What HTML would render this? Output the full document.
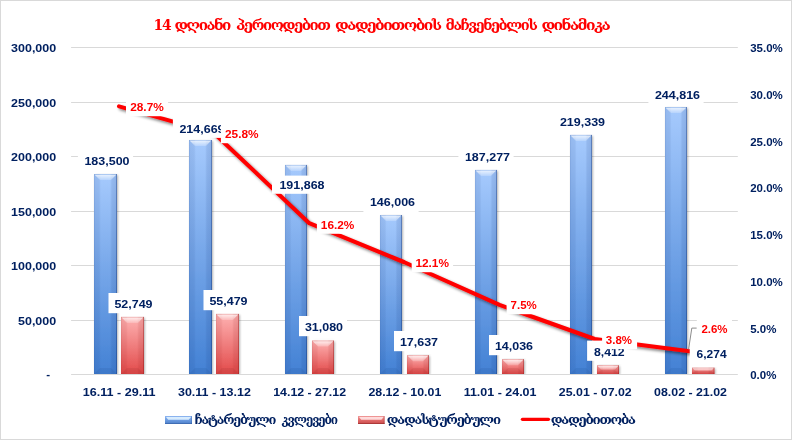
<!DOCTYPE html>
<html lang="ka"><head><meta charset="utf-8"><title>14 დღიანი პერიოდებით დადებითობის მაჩვენებლის დინამიკა</title>
<style>html,body{margin:0;padding:0;background:#fff}body{width:792px;height:440px;overflow:hidden}svg{display:block}.n{font-family:"Liberation Sans","DejaVu Sans",sans-serif;font-weight:bold;font-size:11.6px;fill:#002060}.r{font-family:"Liberation Sans","DejaVu Sans",sans-serif;font-weight:bold;font-size:11.6px;fill:#ff0000}.g{font-family:"DejaVu Serif","DejaVu Sans",serif;font-weight:bold;fill:#002060}</style></head><body>
<svg width="792" height="440" viewBox="0 0 792 440">
<defs>
<linearGradient id="gb" x1="0" y1="0" x2="0" y2="1"><stop offset="0" stop-color="#a6cafd"/><stop offset="1" stop-color="#4381d4"/></linearGradient>
<linearGradient id="gr" x1="0" y1="0" x2="0" y2="1"><stop offset="0" stop-color="#feb2b2"/><stop offset="1" stop-color="#e24a4a"/></linearGradient>
<linearGradient id="gt" x1="0" y1="0" x2="0" y2="1"><stop offset="0" stop-color="#fff" stop-opacity=".75"/><stop offset="1" stop-color="#fff" stop-opacity=".2"/></linearGradient>
<linearGradient id="lb" x1="0" y1="0" x2="0" y2="1"><stop offset="0" stop-color="#8fb6f0"/><stop offset=".5" stop-color="#6c9ce2"/><stop offset="1" stop-color="#4c7ec8"/></linearGradient>
<linearGradient id="lr" x1="0" y1="0" x2="0" y2="1"><stop offset="0" stop-color="#f09a9a"/><stop offset=".5" stop-color="#e26c6c"/><stop offset="1" stop-color="#c84848"/></linearGradient>
<filter id="sh" x="-5%" y="-5%" width="110%" height="112%"><feGaussianBlur in="SourceAlpha" stdDeviation="1.6"/><feOffset dx="1.6" dy="2.2"/><feComponentTransfer><feFuncA type="linear" slope=".5"/></feComponentTransfer><feMerge><feMergeNode/><feMergeNode in="SourceGraphic"/></feMerge></filter>
<filter id="sb" x="-30%" y="-5%" width="160%" height="110%"><feGaussianBlur in="SourceAlpha" stdDeviation=".9"/><feOffset dx="1.2" dy="0.5"/><feComponentTransfer><feFuncA type="linear" slope=".3"/></feComponentTransfer><feMerge><feMergeNode/><feMergeNode in="SourceGraphic"/></feMerge></filter>
<linearGradient id="ob" x1="0" y1="0" x2="1" y2="0"><stop offset="0" stop-color="#0c2c70" stop-opacity="0.22"/><stop offset="0.05" stop-color="#0c2c70" stop-opacity="0.1"/><stop offset="0.22" stop-color="#0c2c70" stop-opacity="0.08"/><stop offset="0.3" stop-color="#0c2c70" stop-opacity="0"/><stop offset="0.7" stop-color="#0c2c70" stop-opacity="0"/><stop offset="0.78" stop-color="#0c2c70" stop-opacity="0.1"/><stop offset="0.95" stop-color="#0c2c70" stop-opacity="0.14"/><stop offset="0.96" stop-color="#0c2c70" stop-opacity="0.45"/><stop offset="1" stop-color="#0c2c70" stop-opacity="0.5"/></linearGradient>
<linearGradient id="or" x1="0" y1="0" x2="1" y2="0"><stop offset="0" stop-color="#8a1010" stop-opacity="0.22"/><stop offset="0.05" stop-color="#8a1010" stop-opacity="0.1"/><stop offset="0.22" stop-color="#8a1010" stop-opacity="0.08"/><stop offset="0.3" stop-color="#8a1010" stop-opacity="0"/><stop offset="0.7" stop-color="#8a1010" stop-opacity="0"/><stop offset="0.78" stop-color="#8a1010" stop-opacity="0.1"/><stop offset="0.95" stop-color="#8a1010" stop-opacity="0.14"/><stop offset="0.96" stop-color="#8a1010" stop-opacity="0.45"/><stop offset="1" stop-color="#8a1010" stop-opacity="0.5"/></linearGradient>
<clipPath id="cp"><rect x="0" y="0" width="792" height="374"/></clipPath>
</defs>
<rect x="0.5" y="0.5" width="791" height="439" fill="#fff" stroke="#d9d9d9"/>
<text class="g" x="153.6" y="29.6" font-size="14.4" style="fill:#ff0000;letter-spacing:-1.4px" textLength="16.6" lengthAdjust="spacingAndGlyphs">14</text>
<text class="g" x="174.4" y="29.6" font-size="13.8" style="fill:#ff0000;letter-spacing:-1.4px" textLength="55.5" lengthAdjust="spacingAndGlyphs">დღიანი</text>
<text class="g" x="236" y="29.6" font-size="13.8" style="fill:#ff0000;letter-spacing:-1.4px" textLength="93.4" lengthAdjust="spacingAndGlyphs">პერიოდებით</text>
<text class="g" x="335.1" y="29.6" font-size="13.8" style="fill:#ff0000;letter-spacing:-1.4px" textLength="105.4" lengthAdjust="spacingAndGlyphs">დადებითობის</text>
<text class="g" x="445.6" y="29.6" font-size="13.8" style="fill:#ff0000;letter-spacing:-1.4px" textLength="90.9" lengthAdjust="spacingAndGlyphs">მაჩვენებლის</text>
<text class="g" x="541.4" y="29.6" font-size="13.8" style="fill:#ff0000;letter-spacing:-1.4px" textLength="67.9" lengthAdjust="spacingAndGlyphs">დინამიკა</text>
<rect x="71.1" y="47" width="666.7" height="1" fill="#d9d9d9"/>
<rect x="71.1" y="102" width="666.7" height="1" fill="#d9d9d9"/>
<rect x="71.1" y="156" width="666.7" height="1" fill="#d9d9d9"/>
<rect x="71.1" y="211" width="666.7" height="1" fill="#d9d9d9"/>
<rect x="71.1" y="265" width="666.7" height="1" fill="#d9d9d9"/>
<rect x="71.1" y="320" width="666.7" height="1" fill="#d9d9d9"/>
<rect x="71.1" y="374" width="666.7" height="1" fill="#d9d9d9"/>
<text class="n" x="56.2" y="52.1" text-anchor="end" textLength="45.1" lengthAdjust="spacingAndGlyphs">300,000</text>
<text class="n" x="56.2" y="106.6" text-anchor="end" textLength="45.1" lengthAdjust="spacingAndGlyphs">250,000</text>
<text class="n" x="56.2" y="161.1" text-anchor="end" textLength="45.1" lengthAdjust="spacingAndGlyphs">200,000</text>
<text class="n" x="56.2" y="215.6" text-anchor="end" textLength="45.1" lengthAdjust="spacingAndGlyphs">150,000</text>
<text class="n" x="56.2" y="270.1" text-anchor="end" textLength="45.1" lengthAdjust="spacingAndGlyphs">100,000</text>
<text class="n" x="56.2" y="324.6" text-anchor="end" textLength="38.16" lengthAdjust="spacingAndGlyphs">50,000</text>
<text class="n" x="50.2" y="377.7" text-anchor="end">-</text>
<text class="n" x="750.2" y="52.3" textLength="32.6" lengthAdjust="spacingAndGlyphs">35.0%</text>
<text class="n" x="750.2" y="99.01" textLength="32.6" lengthAdjust="spacingAndGlyphs">30.0%</text>
<text class="n" x="750.2" y="145.73" textLength="32.6" lengthAdjust="spacingAndGlyphs">25.0%</text>
<text class="n" x="750.2" y="192.44" textLength="32.6" lengthAdjust="spacingAndGlyphs">20.0%</text>
<text class="n" x="750.2" y="239.16" textLength="32.6" lengthAdjust="spacingAndGlyphs">15.0%</text>
<text class="n" x="750.2" y="285.87" textLength="32.6" lengthAdjust="spacingAndGlyphs">10.0%</text>
<text class="n" x="750.2" y="332.59" textLength="26.2" lengthAdjust="spacingAndGlyphs">5.0%</text>
<text class="n" x="750.2" y="379.3" textLength="26.2" lengthAdjust="spacingAndGlyphs">0.0%</text>
<g clip-path="url(#cp)">
<g filter="url(#sb)"><rect x="94" y="174.06" width="23" height="199.94" fill="url(#gb)"/></g><rect x="94" y="174.06" width="23" height="199.94" fill="url(#ob)"/><polygon points="94.6,174.66 116.2,174.66 111,180.06 100,180.06" fill="url(#gt)"/><polygon points="94,374 117,374 111,368 100,368" fill="#16387a" fill-opacity=".10"/><rect x="94" y="174.06" width="23" height=".8" fill="#16387a" fill-opacity=".09"/>
<g filter="url(#sb)"><rect x="121" y="316.88" width="23" height="57.12" fill="url(#gr)"/></g><rect x="121" y="316.88" width="23" height="57.12" fill="url(#or)"/><polygon points="121.6,317.48 143.2,317.48 138,322.88 127,322.88" fill="url(#gt)"/><polygon points="121,374 144,374 138,368 127,368" fill="#701818" fill-opacity=".10"/><rect x="121" y="316.88" width="23" height=".8" fill="#701818" fill-opacity=".09"/>
<g filter="url(#sb)"><rect x="189" y="140.01" width="23" height="233.99" fill="url(#gb)"/></g><rect x="189" y="140.01" width="23" height="233.99" fill="url(#ob)"/><polygon points="189.6,140.61 211.2,140.61 206,146.01 195,146.01" fill="url(#gt)"/><polygon points="189,374 212,374 206,368 195,368" fill="#16387a" fill-opacity=".10"/><rect x="189" y="140.01" width="23" height=".8" fill="#16387a" fill-opacity=".09"/>
<g filter="url(#sb)"><rect x="216" y="313.9" width="23" height="60.1" fill="url(#gr)"/></g><rect x="216" y="313.9" width="23" height="60.1" fill="url(#or)"/><polygon points="216.6,314.5 238.2,314.5 233,319.9 222,319.9" fill="url(#gt)"/><polygon points="216,374 239,374 233,368 222,368" fill="#701818" fill-opacity=".10"/><rect x="216" y="313.9" width="23" height=".8" fill="#701818" fill-opacity=".09"/>
<g filter="url(#sb)"><rect x="285" y="164.92" width="22" height="209.08" fill="url(#gb)"/></g><rect x="285" y="164.92" width="22" height="209.08" fill="url(#ob)"/><polygon points="285.6,165.52 306.2,165.52 301,170.92 291,170.92" fill="url(#gt)"/><polygon points="285,374 307,374 301,368 291,368" fill="#16387a" fill-opacity=".10"/><rect x="285" y="164.92" width="22" height=".8" fill="#16387a" fill-opacity=".09"/>
<g filter="url(#sb)"><rect x="312" y="340.55" width="22" height="33.45" fill="url(#gr)"/></g><rect x="312" y="340.55" width="22" height="33.45" fill="url(#or)"/><polygon points="312.6,341.15 333.2,341.15 328,346.55 318,346.55" fill="url(#gt)"/><polygon points="312,374 334,374 328,368 318,368" fill="#701818" fill-opacity=".10"/><rect x="312" y="340.55" width="22" height=".8" fill="#701818" fill-opacity=".09"/>
<g filter="url(#sb)"><rect x="380" y="215.01" width="22" height="158.99" fill="url(#gb)"/></g><rect x="380" y="215.01" width="22" height="158.99" fill="url(#ob)"/><polygon points="380.6,215.61 401.2,215.61 396,221.01 386,221.01" fill="url(#gt)"/><polygon points="380,374 402,374 396,368 386,368" fill="#16387a" fill-opacity=".10"/><rect x="380" y="215.01" width="22" height=".8" fill="#16387a" fill-opacity=".09"/>
<g filter="url(#sb)"><rect x="407" y="355.23" width="22" height="18.77" fill="url(#gr)"/></g><rect x="407" y="355.23" width="22" height="18.77" fill="url(#or)"/><polygon points="407.6,355.83 428.2,355.83 423,361.23 413,361.23" fill="url(#gt)"/><polygon points="407,374 429,374 423,368 413,368" fill="#701818" fill-opacity=".10"/><rect x="407" y="355.23" width="22" height=".8" fill="#701818" fill-opacity=".09"/>
<g filter="url(#sb)"><rect x="475" y="169.93" width="22" height="204.07" fill="url(#gb)"/></g><rect x="475" y="169.93" width="22" height="204.07" fill="url(#ob)"/><polygon points="475.6,170.53 496.2,170.53 491,175.93 481,175.93" fill="url(#gt)"/><polygon points="475,374 497,374 491,368 481,368" fill="#16387a" fill-opacity=".10"/><rect x="475" y="169.93" width="22" height=".8" fill="#16387a" fill-opacity=".09"/>
<g filter="url(#sb)"><rect x="502" y="359.17" width="22" height="14.83" fill="url(#gr)"/></g><rect x="502" y="359.17" width="22" height="14.83" fill="url(#or)"/><polygon points="502.6,359.77 523.2,359.77 518,365.17 508,365.17" fill="url(#gt)"/><polygon points="502,374 524,374 518,368 508,368" fill="#701818" fill-opacity=".10"/><rect x="502" y="359.17" width="22" height=".8" fill="#701818" fill-opacity=".09"/>
<g filter="url(#sb)"><rect x="570" y="134.91" width="22" height="239.09" fill="url(#gb)"/></g><rect x="570" y="134.91" width="22" height="239.09" fill="url(#ob)"/><polygon points="570.6,135.51 591.2,135.51 586,140.91 576,140.91" fill="url(#gt)"/><polygon points="570,374 592,374 586,368 576,368" fill="#16387a" fill-opacity=".10"/><rect x="570" y="134.91" width="22" height=".8" fill="#16387a" fill-opacity=".09"/>
<g filter="url(#sb)"><rect x="597" y="365.31" width="22" height="8.69" fill="url(#gr)"/></g><rect x="597" y="365.31" width="22" height="8.69" fill="url(#or)"/><polygon points="597.6,365.91 618.2,365.91 614.66,369.66 601.34,369.66" fill="url(#gt)"/><polygon points="597,374 619,374 614.66,369.66 601.34,369.66" fill="#701818" fill-opacity=".10"/><rect x="597" y="365.31" width="22" height=".8" fill="#701818" fill-opacity=".09"/>
<g filter="url(#sb)"><rect x="665" y="107.08" width="22" height="266.92" fill="url(#gb)"/></g><rect x="665" y="107.08" width="22" height="266.92" fill="url(#ob)"/><polygon points="665.6,107.68 686.2,107.68 681,113.08 671,113.08" fill="url(#gt)"/><polygon points="665,374 687,374 681,368 671,368" fill="#16387a" fill-opacity=".10"/><rect x="665" y="107.08" width="22" height=".8" fill="#16387a" fill-opacity=".09"/>
<g filter="url(#sb)"><rect x="692" y="367.65" width="22.5" height="6.35" fill="url(#gr)"/></g><rect x="692" y="367.65" width="22.5" height="6.35" fill="url(#or)"/><polygon points="692.6,368.25 713.7,368.25 711.32,370.82 695.18,370.82" fill="url(#gt)"/><polygon points="692,374 714.5,374 711.32,370.82 695.18,370.82" fill="#701818" fill-opacity=".10"/><rect x="692" y="367.65" width="22.5" height=".8" fill="#701818" fill-opacity=".09"/>
</g>
<polyline filter="url(#sh)" fill="none" stroke="#ff0000" stroke-width="4.1" stroke-linecap="round" stroke-linejoin="round" points="119,106.36 214.13,133.15 309.26,223.15 404.39,262.25 499.52,304.93 594.65,339 689.78,351.21"/>
<rect x="77.9" y="150" width="55.2" height="20.2" fill="#fff"/><text class="n" x="107" y="165" text-anchor="middle" textLength="45.1" lengthAdjust="spacingAndGlyphs">183,500</text>
<rect x="172.9" y="117.7" width="55.2" height="20.2" fill="#fff"/><text class="n" x="202" y="132.7" text-anchor="middle" textLength="45.1" lengthAdjust="spacingAndGlyphs">214,669</text>
<rect x="272" y="175.6" width="55.2" height="18.2" fill="#fff"/><text class="n" x="302" y="189.3" text-anchor="middle" textLength="45.1" lengthAdjust="spacingAndGlyphs">191,868</text>
<rect x="363.4" y="191" width="55.2" height="21.3" fill="#fff"/><text class="n" x="392.5" y="206" text-anchor="middle" textLength="45.1" lengthAdjust="spacingAndGlyphs">146,006</text>
<rect x="458.4" y="146" width="55.2" height="20.2" fill="#fff"/><text class="n" x="487.5" y="161" text-anchor="middle" textLength="45.1" lengthAdjust="spacingAndGlyphs">187,277</text>
<rect x="553.4" y="111" width="55.2" height="20.2" fill="#fff"/><text class="n" x="582.5" y="126" text-anchor="middle" textLength="45.1" lengthAdjust="spacingAndGlyphs">219,339</text>
<rect x="648.4" y="84.2" width="55.2" height="20.2" fill="#fff"/><text class="n" x="677.5" y="99.2" text-anchor="middle" textLength="45.1" lengthAdjust="spacingAndGlyphs">244,816</text>
<rect x="108.5" y="293" width="48" height="20.2" fill="#fff"/><text class="n" x="133.5" y="308" text-anchor="middle" textLength="38.16" lengthAdjust="spacingAndGlyphs">52,749</text>
<rect x="203.5" y="290" width="48" height="20.2" fill="#fff"/><text class="n" x="228.5" y="305" text-anchor="middle" textLength="38.16" lengthAdjust="spacingAndGlyphs">55,479</text>
<rect x="299" y="316" width="48" height="20.2" fill="#fff"/><text class="n" x="324" y="331" text-anchor="middle" textLength="38.16" lengthAdjust="spacingAndGlyphs">31,080</text>
<rect x="394" y="331" width="48" height="20.2" fill="#fff"/><text class="n" x="419" y="346" text-anchor="middle" textLength="38.16" lengthAdjust="spacingAndGlyphs">17,637</text>
<rect x="489" y="335" width="48" height="20.2" fill="#fff"/><text class="n" x="514" y="350" text-anchor="middle" textLength="38.16" lengthAdjust="spacingAndGlyphs">14,036</text>
<rect x="587.1" y="340.6" width="40" height="20.2" fill="#fff"/><text class="n" x="609.3" y="355.6" text-anchor="middle" textLength="30.62" lengthAdjust="spacingAndGlyphs">8,412</text>
<rect x="689.75" y="343" width="41" height="20.2" fill="#fff"/><text class="n" x="711.6" y="358" text-anchor="middle" textLength="30.02" lengthAdjust="spacingAndGlyphs">6,274</text>
<polyline fill="none" stroke="#8c8c8c" stroke-width="1" points="688.6,349.3 691.8,328.1 696.8,328.1"/>
<rect x="126" y="96" width="42.1" height="20.2" fill="#fff"/><text class="r" x="130.2" y="111" text-anchor="start" textLength="33.6" lengthAdjust="spacingAndGlyphs">28.7%</text>
<rect x="220.9" y="123" width="41.2" height="20.2" fill="#fff"/><text class="r" x="225" y="138" text-anchor="start" textLength="33.6" lengthAdjust="spacingAndGlyphs">25.8%</text>
<rect x="316.9" y="213.6" width="41.2" height="20.2" fill="#fff"/><text class="r" x="320.8" y="228.6" text-anchor="start" textLength="33.6" lengthAdjust="spacingAndGlyphs">16.2%</text>
<rect x="411.7" y="252" width="41.4" height="20.2" fill="#fff"/><text class="r" x="415.4" y="267" text-anchor="start" textLength="33.6" lengthAdjust="spacingAndGlyphs">12.1%</text>
<rect x="506.6" y="294" width="35" height="20.2" fill="#fff"/><text class="r" x="510.6" y="309" text-anchor="start" textLength="26.2" lengthAdjust="spacingAndGlyphs">7.5%</text>
<rect x="602.1" y="329" width="35" height="20.2" fill="#fff"/><text class="r" x="605.8" y="344" text-anchor="start" textLength="26.2" lengthAdjust="spacingAndGlyphs">3.8%</text>
<rect x="696.8" y="318.1" width="35.2" height="20.2" fill="#fff"/><text class="r" x="701.4" y="333.1" text-anchor="start" textLength="26.2" lengthAdjust="spacingAndGlyphs">2.6%</text>
<text class="n" x="119.2" y="395.9" text-anchor="middle" textLength="72.84" lengthAdjust="spacingAndGlyphs">16.11 - 29.11</text>
<text class="n" x="214.42" y="395.9" text-anchor="middle" textLength="72.84" lengthAdjust="spacingAndGlyphs">30.11 - 13.12</text>
<text class="n" x="309.64" y="395.9" text-anchor="middle" textLength="72.84" lengthAdjust="spacingAndGlyphs">14.12 - 27.12</text>
<text class="n" x="404.86" y="395.9" text-anchor="middle" textLength="72.84" lengthAdjust="spacingAndGlyphs">28.12 - 10.01</text>
<text class="n" x="500.08" y="395.9" text-anchor="middle" textLength="72.84" lengthAdjust="spacingAndGlyphs">11.01 - 24.01</text>
<text class="n" x="595.3" y="395.9" text-anchor="middle" textLength="72.84" lengthAdjust="spacingAndGlyphs">25.01 - 07.02</text>
<text class="n" x="690.52" y="395.9" text-anchor="middle" textLength="72.84" lengthAdjust="spacingAndGlyphs">08.02 - 21.02</text>
<rect x="165" y="416" width="27" height="8" fill="url(#lb)"/><polygon points="166,417 191,417 188.8,419.7 168.2,419.7" fill="#def1ff" fill-opacity=".92"/><rect x="165" y="423" width="27" height="1" fill="#2a559a" fill-opacity=".45"/><rect x="191.1" y="416" width=".9" height="8" fill="#2a559a" fill-opacity=".35"/>
<text class="g" x="194.5" y="424.4" font-size="12.8" style="letter-spacing:-1.2px" textLength="80.7" lengthAdjust="spacingAndGlyphs">ჩატარებული</text>
<text class="g" x="281.6" y="424.4" font-size="12.8" style="letter-spacing:-1.2px" textLength="55.4" lengthAdjust="spacingAndGlyphs">კვლევები</text>
<rect x="358" y="416" width="26.6" height="8" fill="url(#lr)"/><polygon points="359,417 383.6,417 381.4,419.7 361.2,419.7" fill="#ffe2e2" fill-opacity=".92"/><rect x="358" y="423" width="26.6" height="1" fill="#8a2222" fill-opacity=".45"/><rect x="383.7" y="416" width=".9" height="8" fill="#8a2222" fill-opacity=".35"/>
<text class="g" x="386.8" y="424.4" font-size="12.8" style="letter-spacing:-1.2px" textLength="113" lengthAdjust="spacingAndGlyphs">დადასტურებული</text>
<rect x="520.8" y="417.7" width="29.3" height="3.3" rx="1.65" fill="#ff0000"/>
<text class="g" x="550.7" y="424.4" font-size="12.8" style="letter-spacing:-1.2px" textLength="84.1" lengthAdjust="spacingAndGlyphs">დადებითობა</text>
</svg></body></html>
